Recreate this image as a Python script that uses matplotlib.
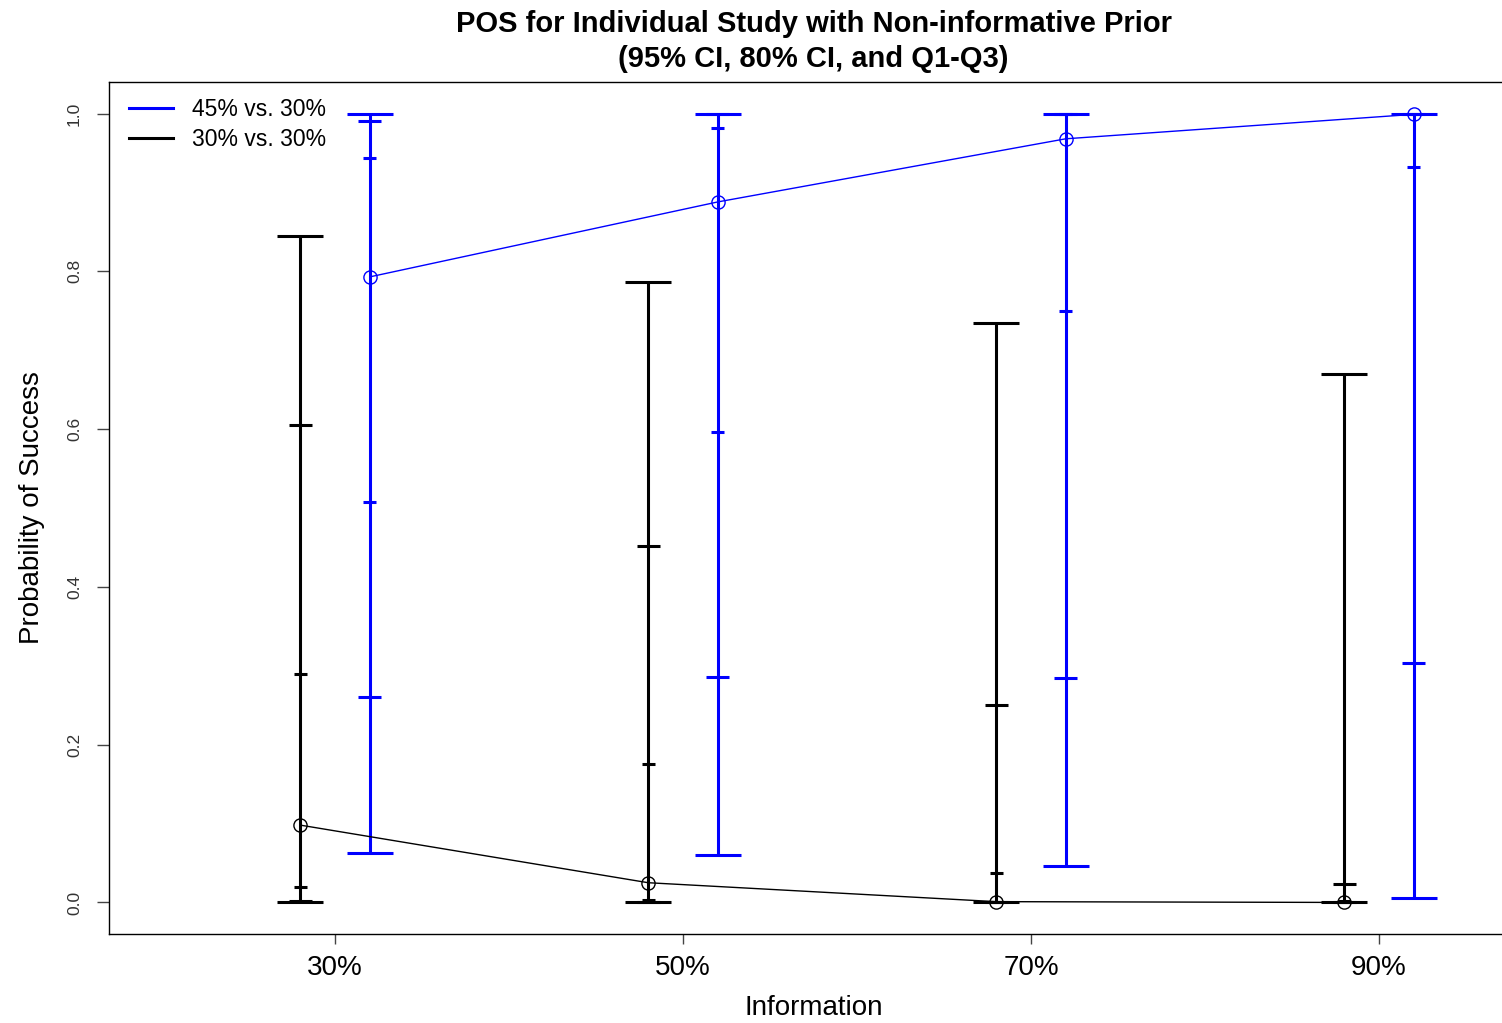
import matplotlib
matplotlib.use("Agg")
import matplotlib.pyplot as plt

plt.rcParams['font.family'] = ['Liberation Sans', 'DejaVu Sans']

# information fraction (%)
info = [30, 50, 70, 90]
info_labels = ["30%", "50%", "70%", "90%"]

# 45% vs. 30% (blue)
alt_mean = [0.793, 0.888, 0.968, 0.999]
alt_ci95_lo = [0.063, 0.060, 0.046, 0.006]
alt_ci95_hi = [0.999, 1.000, 1.000, 1.000]
alt_ci80_lo = [0.260, 0.286, 0.285, 0.303]
alt_ci80_hi = [0.990, 1.000, 1.000, 1.000]
alt_q1 = [0.507, 0.596, 0.750, 0.932]
alt_q3 = [0.944, 0.982, 1.000, 1.000]

# 30% vs. 30% (black)
null_mean = [0.098, 0.025, 0.001, 0.000]
null_ci95_lo = [0.001, 0.000, 0.000, 0.000]
null_ci95_hi = [0.845, 0.787, 0.734, 0.670]
null_ci80_lo = [0.002, 0.000, 0.000, 0.000]
null_ci80_hi = [0.605, 0.452, 0.250, 0.024]
null_q1 = [0.019, 0.003, 0.000, 0.000]
null_q3 = [0.290, 0.176, 0.037, 0.002]

shift = 2.0
cap_half = {"ci95": 1.32, "ci80": 0.66, "iqr": 0.37}

fig = plt.figure(figsize=(15.02, 10.23), dpi=100)
ax = fig.add_axes([109 / 1502, 89 / 1023, 1409 / 1502, 852 / 1023])


def draw_group(xs, mean, ci95, ci80, iqr, color):
    ax.vlines(xs, ci95[0], ci95[1], color=color, lw=2.2, zorder=2)
    for key, (lo, hi) in (("ci95", ci95), ("ci80", ci80), ("iqr", iqr)):
        hw = cap_half[key]
        xmin = [x - hw for x in xs]
        xmax = [x + hw for x in xs]
        ax.hlines(lo, xmin, xmax, color=color, lw=2.2, zorder=2)
        ax.hlines(hi, xmin, xmax, color=color, lw=2.2, zorder=2)
    ax.plot(xs, mean, color=color, lw=1.0, marker='o', ms=9.5,
            mfc='none', mec=color, mew=1.0, zorder=3)


null_x = [v - shift for v in info]
alt_x = [v + shift for v in info]
draw_group(null_x, null_mean, (null_ci95_lo, null_ci95_hi),
           (null_ci80_lo, null_ci80_hi), (null_q1, null_q3), 'black')
draw_group(alt_x, alt_mean, (alt_ci95_lo, alt_ci95_hi),
           (alt_ci80_lo, alt_ci80_hi), (alt_q1, alt_q3), '#0000ff')

ax.set_xlim(17, 98)
ax.set_ylim(-0.04, 1.04)
ax.set_xticks(info)
ax.set_xticklabels(info_labels, fontsize=20)
ax.set_yticks([0.0, 0.2, 0.4, 0.6, 0.8, 1.0])
ax.set_yticklabels(["0.0", "0.2", "0.4", "0.6", "0.8", "1.0"],
                   rotation=90, va='center', fontsize=12.5, color='#333333')
ax.tick_params(axis='x', length=7, width=1, color='#444444', pad=8)
ax.tick_params(axis='y', length=8.5, width=1, color='#444444', pad=11)
for sp in ax.spines.values():
    sp.set_linewidth(1.0)

ax.set_xlabel("Information", fontsize=20, labelpad=10)
ax.set_ylabel("Probability of Success", fontsize=20, labelpad=16)
ax.set_title("POS for Individual Study with Non-informative Prior\n(95% CI, 80% CI, and Q1-Q3)",
             fontsize=21, fontweight='bold', pad=11, linespacing=1.3)

h1, = ax.plot([], [], color='#0000ff', lw=2.2)
h2, = ax.plot([], [], color='black', lw=2.2)
ax.legend([h1, h2], ["45% vs. 30%", "30% vs. 30%"], loc='upper left',
          bbox_to_anchor=(129 / 1502, 1 - 98 / 1023), bbox_transform=fig.transFigure,
          frameon=False, fontsize=16.5, handlelength=1.9, handletextpad=0.87,
          labelspacing=0.32, borderpad=0, borderaxespad=0)

fig.savefig("out.png", dpi=100)
